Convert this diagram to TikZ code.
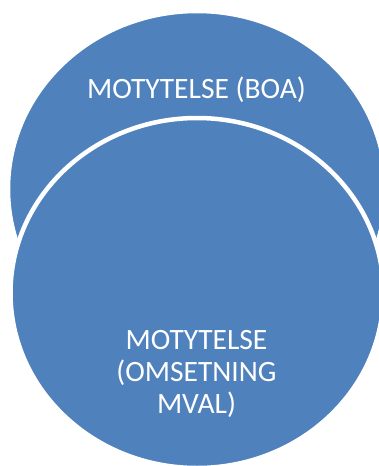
\documentclass[tikz,border=0pt]{standalone}
\usepackage{fontspec}
\setmainfont{Carlito}
\usetikzlibrary{shapes.geometric}
\definecolor{vennblue}{HTML}{4F81BD}
\tikzset{
  venn/.style={ellipse, inner sep=0pt, fill=vennblue, draw=white, line width=4.5pt,
    minimum width=373pt, minimum height=350pt},
  lbl/.style={text=white, align=center, inner sep=0pt, font=\fontsize{29.5}{32}\selectfont}
}
\begin{document}
\begin{tikzpicture}[x=1pt,y=-1pt]
\useasboundingbox (0,0) rectangle (379,466);
\node[venn, minimum width=378pt, minimum height=356pt] (top) at (197,189) {};
\node[venn] (bottom) at (197,293) {};
\node[lbl, anchor=base] (toptext) at (196.5,98) {MOTYTELSE (BOA)};
\node[lbl, anchor=base] (bottomtext) at (196.5,413) {MOTYTELSE\\(OMSETNING\\MVAL)};
\end{tikzpicture}
\end{document}
